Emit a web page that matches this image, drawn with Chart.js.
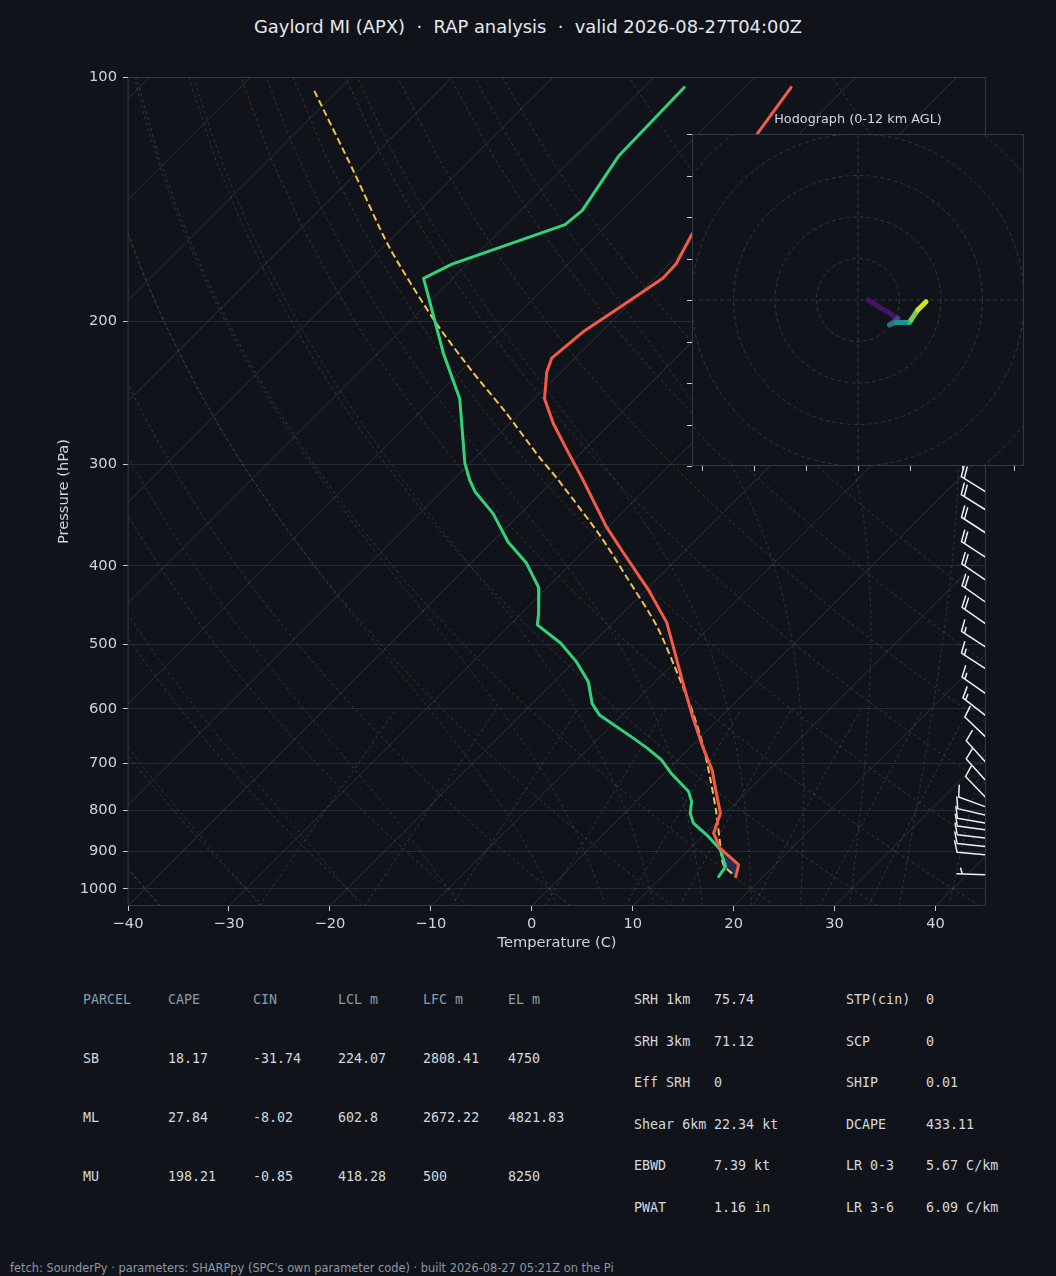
<!DOCTYPE html>
<html>
<head>
<meta charset="utf-8">
<script src="https://cdn.jsdelivr.net/npm/chart.js@4.4.1/dist/chart.umd.min.js"></script>
<style>
  html, body { margin: 0; padding: 0; background: #10141a; }
  body { width: 1056px; height: 1276px; position: relative; overflow: hidden; font-family: "DejaVu Sans", sans-serif; }
  #title { position: absolute; left: 0; top: 16px; width: 1056px; text-align: center; color: #e4e8ed; font-size: 17.9px; line-height: 22px; white-space: pre; }
  #skew { position: absolute; left: 0; top: 0; }
  #hodo { position: absolute; left: 672px; top: 100px; }
  .cell { position: absolute; font-family: "DejaVu Sans Mono", monospace; font-size: 13.33px; line-height: 16px; color: #d3d8de; white-space: pre; }
  .head { color: #8c9aab; }
  #footer { position: absolute; left: 10px; top: 1261px; font-size: 11.4px; line-height: 14px; color: #8a97a8; white-space: pre; }
</style>
</head>
<body>
<div id="title">Gaylord MI (APX)  ·  RAP analysis  ·  valid 2026-08-27T04:00Z</div>
<canvas id="skew" width="1056" height="970"></canvas>
<canvas id="hodo" width="372" height="380"></canvas>
<div id="tables"></div>
<div id="footer">fetch: SounderPy · parameters: SHARPpy (SPC's own parameter code) · built 2026-08-27 05:21Z on the Pi</div>
<script>
// ---- sounding (hPa / degC) ----
const TEMP_P = [103, 117, 157, 170, 177, 191, 206, 222, 231, 249, 267, 288, 312, 358, 385, 428, 470, 512, 558, 614, 669, 714, 755, 807, 854, 891, 934, 966];
const TEMP_C = [-55.4, -54.2, -50.6, -49.3, -49.2, -50.5, -51.8, -52.3, -51.4, -49.0, -45.7, -41.7, -37.4, -30.2, -26.0, -19.8, -14.7, -10.9, -7.1, -2.8, 1.2, 4.4, 6.7, 9.5, 10.8, 12.9, 16.4, 17.3];

const DEWP_P = [103, 125, 146, 152, 170, 177, 219, 249, 299, 314, 324, 345, 374, 397, 426, 458, 473, 498, 525, 556, 591, 611, 649, 671, 694, 720, 759, 781, 807, 830, 862, 895, 939, 966];
const DEWP_C = [-66.0, -65.7, -63.9, -64.2, -71.5, -72.9, -63.5, -57.4, -50.5, -48.3, -46.7, -42.7, -38.4, -34.5, -30.8, -28.3, -27.3, -23.2, -19.8, -16.6, -14.1, -12.2, -7.0, -4.2, -1.6, 0.6, 4.2, 5.5, 6.5, 7.8, 10.6, 13.1, 15.3, 15.6];

const PARCEL_P = [104, 131, 162, 199, 230, 258, 295, 312, 368, 413, 475, 553, 608, 668, 734, 807, 887, 934, 966];
const PARCEL_C = [-102.3, -90.3, -79.4, -67.8, -59.0, -51.7, -43.5, -39.9, -29.8, -23.2, -15.3, -7.7, -3.1, 1.2, 5.2, 9.1, 12.8, 14.9, 17.3];

// wind barbs on the right edge
const BARB_P = [324, 341, 364, 390, 416, 443, 471, 503, 535, 574, 611, 649, 697, 734, 770, 792, 811, 830, 846, 866, 887, 908, 961];
const BARB_KT = [20, 20, 20, 20, 20, 20, 20, 15, 15, 15, 15, 10, 10, 10, 10, 10, 10, 10, 10, 10, 10, 10, 5];
const BARB_DIR = [302, 302, 303, 303, 304, 305, 305, 303, 303, 305, 308, 314, 318, 318, 316, 290, 283, 280, 278, 277, 276, 275, 272];

// hodograph trace (kt)
const HODO_U = [2.4, 9.6, 7.6, 9.2, 12.4, 12.8, 14.4, 16.4];
const HODO_V = [0, -4.4, -6.0, -5.4, -5.4, -4.8, -2.4, -0.4];

const X_TICKS = [-40, -30, -20, -10, 0, 10, 20, 30, 40];
const P_TICKS = [100, 200, 300, 400, 500, 600, 700, 800, 900, 1000];
const HODO_XTICKS = [-37.5, -25, -12.5, 0, 12.5, 25, 37.5];
const HODO_YTICKS = [-40, -30, -20, -10, 0, 10, 20, 30, 40];
const HODO_RINGS = [10, 20, 30, 40, 50];

// background guide lines
const ISOTHERMS = [-120, -110, -100, -90, -80, -70, -60, -50, -40, -30, -20, -10, 0, 10, 20, 30, 40];
const DRY_T0 = [-40, -30, -20, -10, 0, 10, 20, 30, 40, 50, 60, 70, 80, 90];
const MOIST_T0 = [-40, -30, -20, -10, 0, 5, 10, 15, 20, 25, 30, 35, 40, 45];
const MIX_RATIOS = [0.0004, 0.001, 0.002, 0.004, 0.007, 0.01, 0.016, 0.024, 0.032];

// tables
const PARCEL_HEAD = ['PARCEL', 'CAPE', 'CIN', 'LCL m', 'LFC m', 'EL m'];
const PARCEL_ROWS = [
    ['SB', '18.17', '-31.74', '224.07', '2808.41', '4750'],
    ['ML', '27.84', '-8.02', '602.8', '2672.22', '4821.83'],
    ['MU', '198.21', '-0.85', '418.28', '500', '8250']
];
const INDEX_ROWS = [
    ['SRH 1km', '75.74', 'STP(cin)', '0'],
    ['SRH 3km', '71.12', 'SCP', '0'],
    ['Eff SRH', '0', 'SHIP', '0.01'],
    ['Shear 6km', '22.34 kt', 'DCAPE', '433.11'],
    ['EBWD', '7.39 kt', 'LR 0-3', '5.67 C/km'],
    ['PWAT', '1.16 in', 'LR 3-6', '6.09 C/km']
];

const T_MIN = -40, T_MAX = 45, P_TOP = 100, P_BOT = 1050;
const AREA = { left: 128, right: 986, top: 77, bottom: 906 };
// skew so the isotherms run at 45 degrees
const SKEW = ((AREA.bottom - AREA.top) / Math.log10(P_BOT / P_TOP)) / ((AREA.right - AREA.left) / (T_MAX - T_MIN));

const BG = '#10141a';
const TXT = '#cdd3da';
const FONT = 'DejaVu Sans';

Chart.defaults.font.family = FONT;

function skewPt(p, t) {
    return { x: t + SKEW * Math.log10(P_BOT / p), y: p };
}

function profile(ps, ts) {
    return ps.map((p, i) => skewPt(p, ts[i]));
}

// thermodynamics for the guide lines
const Rd = 287.04749, Cp = 1004.6662, Lv = 2.50084e6, EPS = 0.62196;
const KAPPA = Rd / Cp;

function satVap(tK) {
    const c = tK - 273.15;
    return 6.112 * Math.exp(17.67 * c / (c + 243.5));
}

function moistLapse(p, tK) {
    const es = satVap(tK);
    const rs = EPS * es / (p - es);
    return (Rd * tK + Lv * rs) / (Cp + Lv * Lv * rs * EPS / (Rd * tK * tK)) / p;
}

function rk4(p, t, h) {
    const k1 = moistLapse(p, t);
    const k2 = moistLapse(p + h / 2, t + h / 2 * k1);
    const k3 = moistLapse(p + h / 2, t + h / 2 * k2);
    const k4 = moistLapse(p + h, t + h * k3);
    return t + h / 6 * (k1 + 2 * k2 + 2 * k3 + k4);
}

function moistAdiabat(t0) {
    const step = 5;
    const up = [], down = [];
    let t = t0 + 273.15;
    for (let p = 1000; p > P_TOP; p -= step) {
        up.push(skewPt(p, t - 273.15));
        t = rk4(p, t, -step);
    }
    up.push(skewPt(P_TOP, t - 273.15));
    t = t0 + 273.15;
    for (let p = 1000; p < P_BOT; p += step) {
        t = rk4(p, t, step);
        down.push(skewPt(p + step, t - 273.15));
    }
    return down.reverse().concat(up);
}

function dryAdiabat(t0) {
    const pts = [];
    for (let p = P_BOT; p >= P_TOP; p -= 25) {
        pts.push(skewPt(p, (t0 + 273.15) * Math.pow(p / 1000, KAPPA) - 273.15));
    }
    return pts;
}

function mixingLine(w) {
    const pts = [];
    for (let p = P_BOT; p >= 600; p -= 50) {
        const e = p * w / (EPS + w);
        const l = Math.log(e / 6.112);
        pts.push(skewPt(p, 243.5 * l / (17.67 - l)));
    }
    return pts;
}

function guide(data, color, dash) {
    return { data, showLine: true, borderColor: color, borderWidth: 1, borderDash: dash, pointRadius: 0, fill: false, order: 5 };
}

function fmtMinus(v) {
    return v < 0 ? '\u2212' + Math.abs(v) : String(v);
}

// small CIN pocket between the parcel and the environment near the ground
function cinPocket() {
    const env = TEMP_P.map((p, i) => [p, TEMP_C[i]]).filter(d => d[0] >= 887);
    const par = PARCEL_P.map((p, i) => [p, PARCEL_C[i]]).filter(d => d[0] >= 887).reverse();
    return env.concat(par).map(d => skewPt(d[0], d[1]));
}

const datasets = [
    { data: profile(TEMP_P, TEMP_C), showLine: true, borderColor: '#f65a46', borderWidth: 3, pointRadius: 0, borderJoinStyle: 'round', borderCapStyle: 'round', order: 0 },
    { data: profile(DEWP_P, DEWP_C), showLine: true, borderColor: '#33d17a', borderWidth: 3, pointRadius: 0, borderJoinStyle: 'round', borderCapStyle: 'round', order: 0 },
    { data: profile(PARCEL_P, PARCEL_C), showLine: true, borderColor: '#f2c14e', borderWidth: 2, borderDash: [7, 3.5], pointRadius: 0, tension: 0.25, order: 1 },
    { data: cinPocket(), showLine: true, borderWidth: 0, borderColor: 'rgba(0,0,0,0)', backgroundColor: 'rgba(45,85,150,0.45)', fill: 'shape', pointRadius: 0, order: 2 }
];
ISOTHERMS.forEach(t => datasets.push(guide([skewPt(P_BOT, t), skewPt(P_TOP, t)], 'rgba(140,150,165,0.22)', [])));
DRY_T0.forEach(t => datasets.push(guide(dryAdiabat(t), 'rgba(180,130,70,0.30)', [3, 3])));
MOIST_T0.forEach(t => datasets.push(guide(moistAdiabat(t), 'rgba(80,140,165,0.30)', [3, 3])));
MIX_RATIOS.forEach(w => datasets.push(guide(mixingLine(w), 'rgba(80,130,175,0.35)', [3, 3])));

function drawBarb(ctx, x0, y0, kt, dirDeg, L) {
    const r = dirDeg * Math.PI / 180;
    const dx = Math.sin(r), dy = -Math.cos(r);
    const nx = -dy, ny = dx;
    const tipX = x0 + dx * L, tipY = y0 + dy * L;
    ctx.beginPath();
    ctx.moveTo(x0, y0);
    ctx.lineTo(tipX, tipY);
    let rem = Math.round(kt / 5) * 5;
    const full = Math.floor(rem / 10);
    rem -= full * 10;
    const sp = 0.125 * L, h = 0.4 * L, lean = 0.125 * L;
    let off = 0;
    for (let i = 0; i < full; i++) {
        const bx = tipX - dx * off, by = tipY - dy * off;
        ctx.moveTo(bx, by);
        ctx.lineTo(bx + nx * h + dx * lean, by + ny * h + dy * lean);
        off += sp;
    }
    if (rem >= 5) {
        if (full === 0) off += 1.5 * sp;
        const bx = tipX - dx * off, by = tipY - dy * off;
        ctx.moveTo(bx, by);
        ctx.lineTo(bx + nx * h / 2 + dx * lean / 2, by + ny * h / 2 + dy * lean / 2);
    }
    ctx.stroke();
}

const skewFrame = {
    id: 'skewFrame',
    afterDatasetsDraw(chart) {
        const { ctx, chartArea: a, scales } = chart;
        ctx.save();
        ctx.strokeStyle = '#eceff3';
        ctx.lineWidth = 1.5;
        ctx.lineCap = 'round';
        ctx.lineJoin = 'round';
        BARB_P.forEach((p, i) => {
            drawBarb(ctx, a.right - 1, scales.y.getPixelForValue(p), BARB_KT[i], BARB_DIR[i], 28);
        });
        ctx.strokeStyle = '#2f3947';
        ctx.lineWidth = 1;
        ctx.strokeRect(a.left + 0.5, a.top + 0.5, a.width - 1, a.height - 1);
        ctx.restore();
    }
};

new Chart(document.getElementById('skew'), {
    type: 'scatter',
    data: { datasets },
    options: {
        responsive: false,
        animation: false,
        devicePixelRatio: 1,
        layout: { padding: { left: 51, right: 70, top: 77, bottom: 14 } },
        plugins: { legend: { display: false }, tooltip: { enabled: false } },
        scales: {
            x: {
                type: 'linear', min: T_MIN, max: T_MAX,
                afterBuildTicks: s => { s.ticks = X_TICKS.map(v => ({ value: v })); },
                afterFit: s => { s.height = 50; },
                ticks: { color: TXT, font: { size: 14.67 }, padding: 4, maxRotation: 0, autoSkip: false, callback: v => fmtMinus(v) },
                grid: { drawOnChartArea: false, drawTicks: true, tickLength: 5, tickColor: '#c8ced6' },
                border: { display: false },
                title: { display: true, text: 'Temperature (C)', color: TXT, font: { size: 14.67 } }
            },
            y: {
                type: 'logarithmic', reverse: true, min: P_TOP, max: P_BOT,
                afterBuildTicks: s => { s.ticks = P_TICKS.map(v => ({ value: v })); },
                afterFit: s => { s.width = 77; },
                ticks: { color: TXT, font: { size: 14.67 }, padding: 6, autoSkip: false, callback: v => String(v) },
                grid: { color: '#232b35', lineWidth: 1, drawTicks: true, tickLength: 5, tickColor: '#c8ced6' },
                border: { display: false },
                title: { display: true, text: 'Pressure (hPa)', color: TXT, font: { size: 14.67 } }
            }
        }
    },
    plugins: [skewFrame]
});

// ---- hodograph inset ----
const VIRIDIS = [[0, [68, 1, 84]], [0.13, [72, 36, 117]], [0.25, [59, 82, 139]], [0.38, [44, 114, 142]], [0.5, [33, 145, 140]], [0.63, [40, 174, 128]], [0.75, [94, 201, 98]], [0.88, [173, 220, 48]], [1, [253, 231, 37]]];

function viridis(f) {
    for (let i = 1; i < VIRIDIS.length; i++) {
        if (f <= VIRIDIS[i][0]) {
            const [f0, c0] = VIRIDIS[i - 1], [f1, c1] = VIRIDIS[i];
            const k = (f - f0) / (f1 - f0);
            const c = c0.map((v, j) => Math.round(v + (c1[j] - v) * k));
            return `rgb(${c[0]},${c[1]},${c[2]})`;
        }
    }
    return 'rgb(253,231,37)';
}

const hodoFrame = {
    id: 'hodoFrame',
    beforeDraw(chart) {
        const { ctx, chartArea: a } = chart;
        ctx.save();
        ctx.fillStyle = BG;
        ctx.fillRect(a.left, a.top, a.width, a.height);
        ctx.restore();
    },
    beforeDatasetsDraw(chart) {
        const { ctx, chartArea: a, scales } = chart;
        const cx = scales.x.getPixelForValue(0), cy = scales.y.getPixelForValue(0);
        ctx.save();
        ctx.beginPath();
        ctx.rect(a.left, a.top, a.width, a.height);
        ctx.clip();
        ctx.strokeStyle = '#2c3644';
        ctx.lineWidth = 1;
        ctx.setLineDash([4, 3]);
        HODO_RINGS.forEach(r => {
            ctx.beginPath();
            ctx.arc(cx, cy, scales.x.getPixelForValue(r) - cx, 0, Math.PI * 2);
            ctx.stroke();
        });
        ctx.beginPath();
        ctx.moveTo(a.left, cy); ctx.lineTo(a.right, cy);
        ctx.moveTo(cx, a.top); ctx.lineTo(cx, a.bottom);
        ctx.stroke();
        ctx.restore();
    },
    afterDatasetsDraw(chart) {
        const { ctx, chartArea: a, scales } = chart;
        ctx.save();
        ctx.strokeStyle = '#2f3947';
        ctx.lineWidth = 1;
        ctx.strokeRect(a.left + 0.5, a.top + 0.5, a.width - 1, a.height - 1);
        ctx.strokeStyle = '#c8ced6';
        ctx.beginPath();
        HODO_YTICKS.forEach(v => {
            const y = Math.round(scales.y.getPixelForValue(v)) + 0.5;
            ctx.moveTo(a.left - 5, y); ctx.lineTo(a.left, y);
        });
        HODO_XTICKS.forEach(v => {
            const x = Math.round(scales.x.getPixelForValue(v)) + 0.5;
            ctx.moveTo(x, a.bottom); ctx.lineTo(x, a.bottom + 5);
        });
        ctx.stroke();
        ctx.fillStyle = '#d3d8de';
        ctx.font = '12.8px "DejaVu Sans"';
        ctx.textAlign = 'center';
        ctx.textBaseline = 'middle';
        ctx.fillText('Hodograph (0-12 km AGL)', (a.left + a.right) / 2, a.top - 14);
        ctx.restore();
    }
};

new Chart(document.getElementById('hodo'), {
    type: 'scatter',
    data: {
        datasets: [{
            data: HODO_U.map((u, i) => ({ x: u, y: HODO_V[i] })),
            showLine: true,
            borderWidth: 5,
            pointRadius: 0,
            borderCapStyle: 'round',
            borderJoinStyle: 'round',
            segment: { borderColor: c => viridis((c.p0DataIndex + 0.5) / (HODO_U.length - 1)) }
        }]
    },
    options: {
        responsive: false,
        animation: false,
        devicePixelRatio: 1,
        layout: { padding: { left: 20, right: 20, top: 34, bottom: 14 } },
        plugins: { legend: { display: false }, tooltip: { enabled: false } },
        scales: {
            x: { display: false, min: -40, max: 40 },
            y: { display: false, min: -40, max: 40 }
        }
    },
    plugins: [hodoFrame]
});

// ---- parameter tables ----
const tables = document.getElementById('tables');
function cell(text, x, y, cls) {
    const d = document.createElement('div');
    d.className = 'cell' + (cls ? ' ' + cls : '');
    d.textContent = text;
    d.style.left = (x - 1) + 'px';
    d.style.top = (y - 8) + 'px';
    tables.appendChild(d);
}
const PARCEL_X = [84, 169, 254, 339, 424, 509];
PARCEL_HEAD.forEach((h, j) => cell(h, PARCEL_X[j], 1000, 'head'));
PARCEL_ROWS.forEach((row, i) => row.forEach((v, j) => cell(v, PARCEL_X[j], 1058.5 + i * 59, '')));
const INDEX_X = [635, 715, 847, 927];
INDEX_ROWS.forEach((row, i) => row.forEach((v, j) => cell(v, INDEX_X[j], 1000 + i * 41.5, '')));
</script>
</body>
</html>
